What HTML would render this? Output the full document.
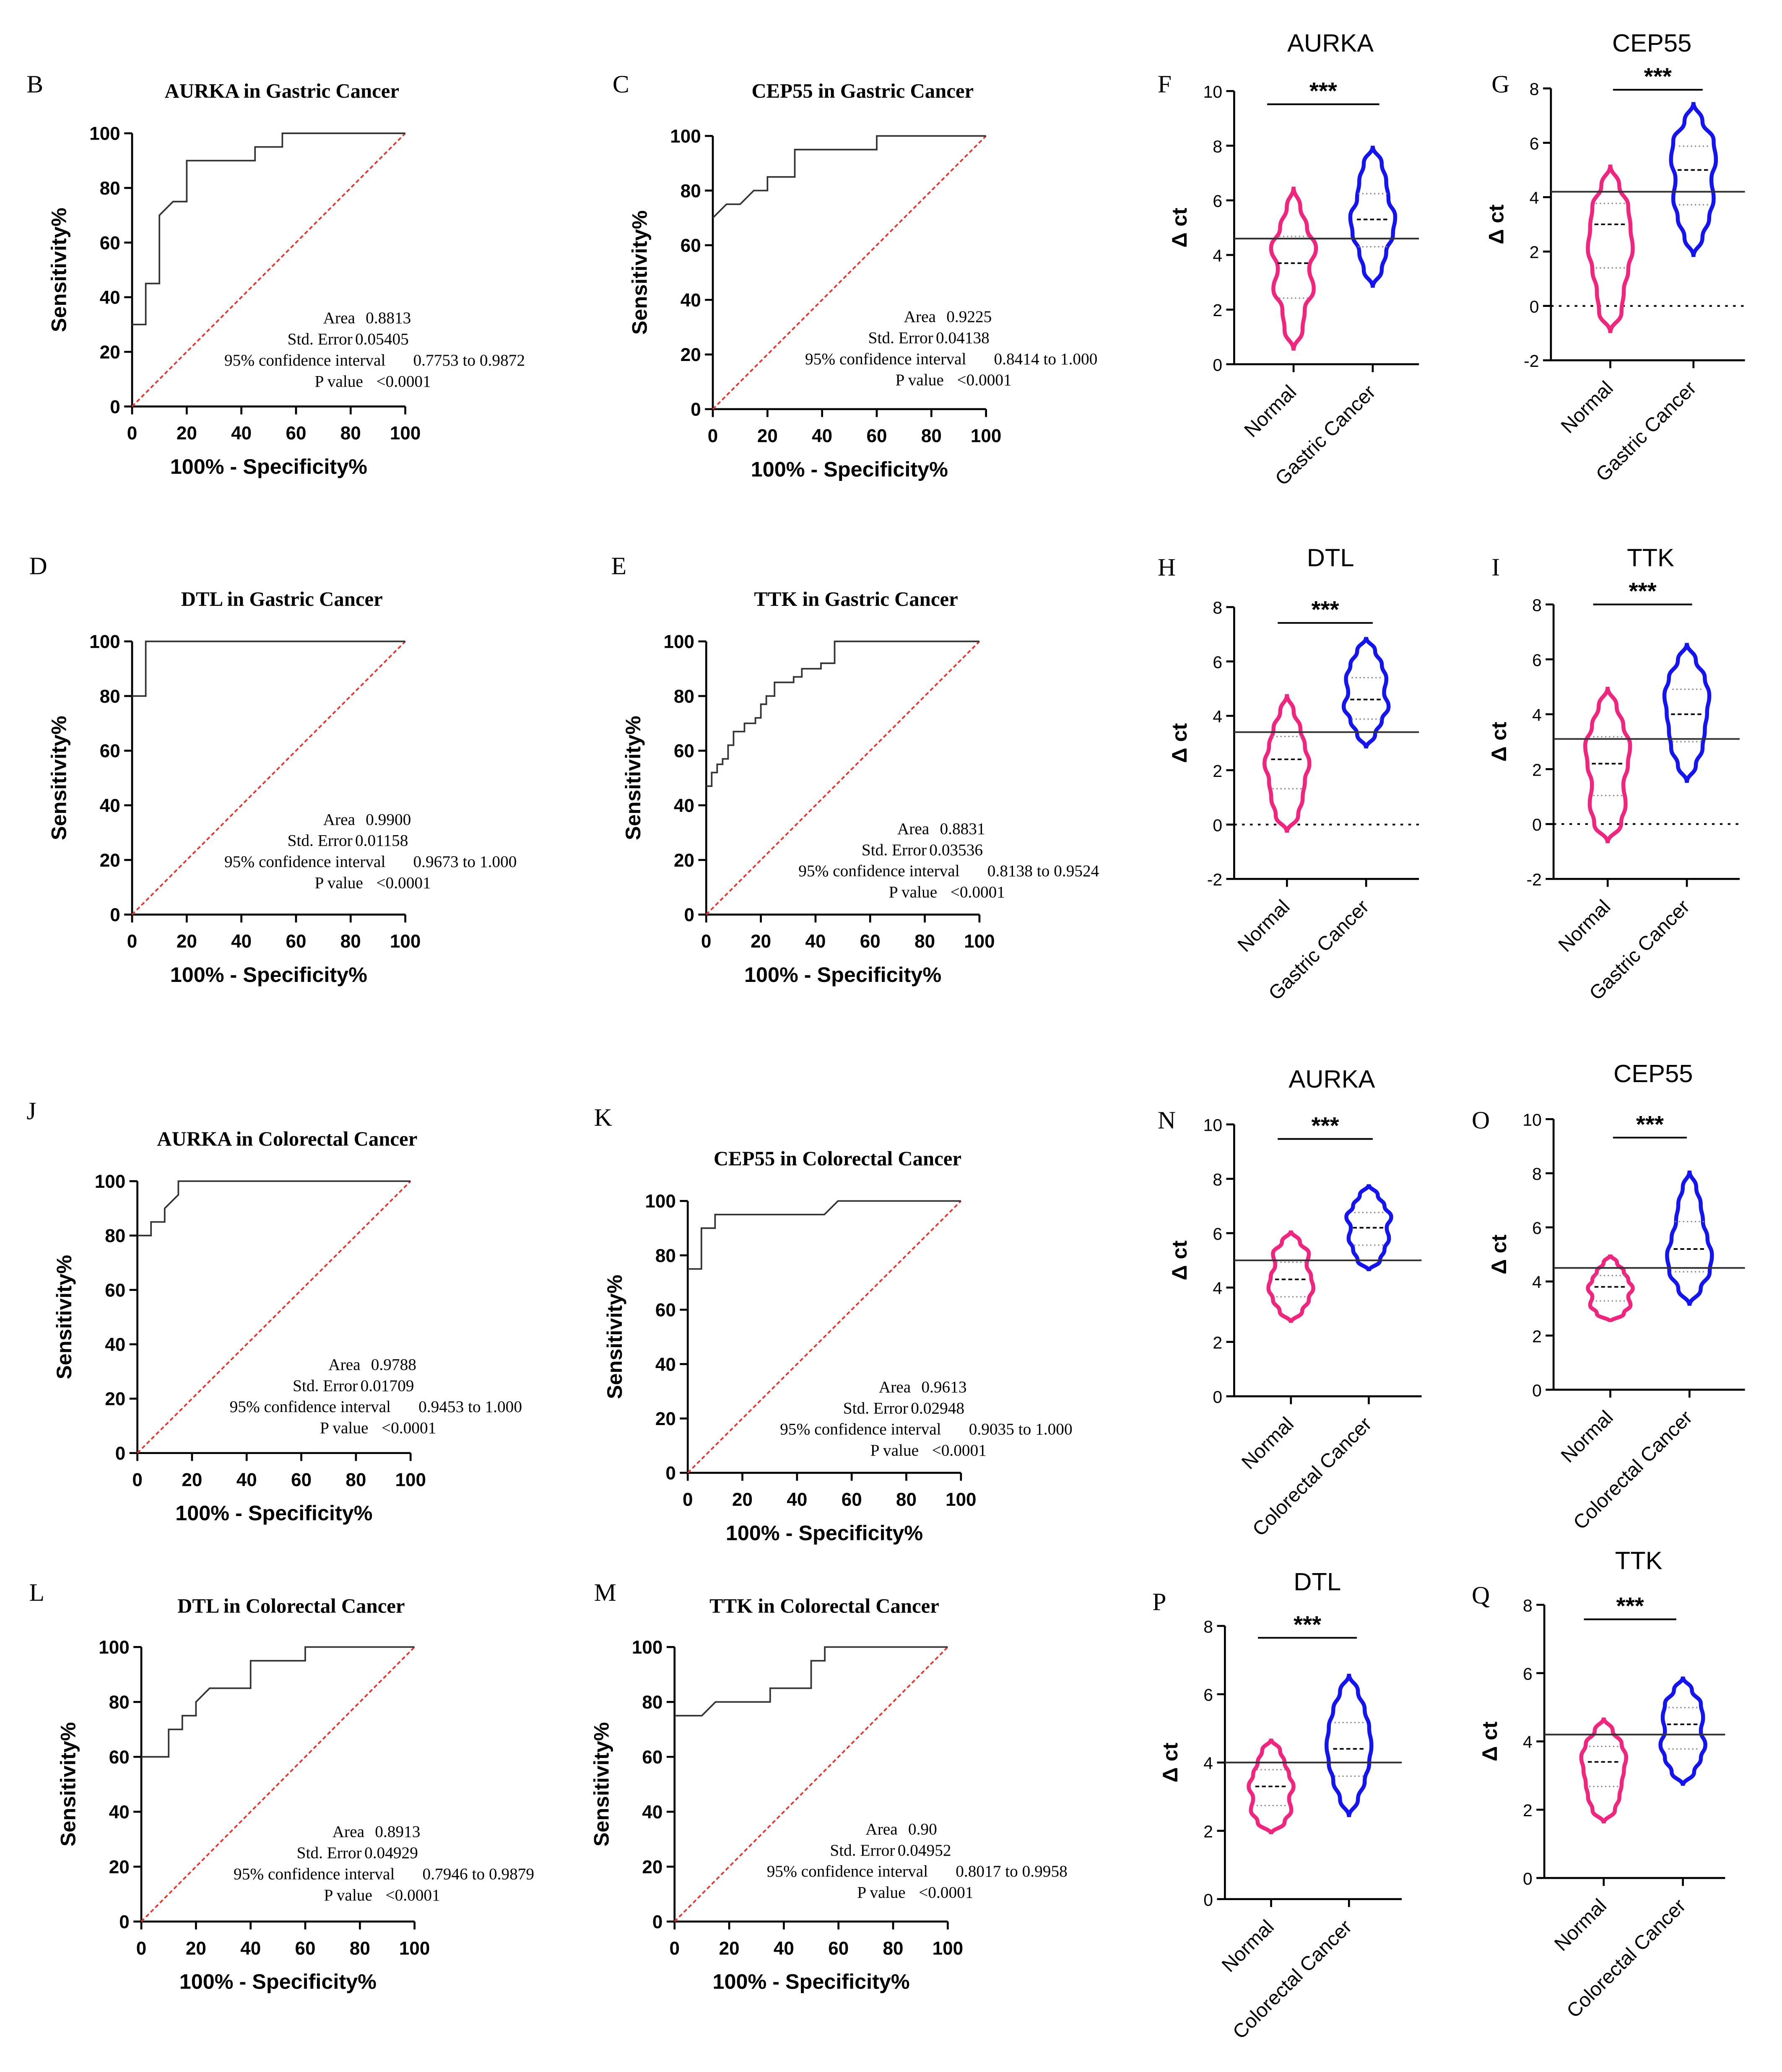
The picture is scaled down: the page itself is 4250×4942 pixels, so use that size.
<!DOCTYPE html>
<html><head><meta charset="utf-8"><style>
html,body{margin:0;padding:0;background:#fff;}
svg{display:block;}
.serif{font-family:"Liberation Serif",serif;}
.sans{font-family:"Liberation Sans",sans-serif;}
</style></head><body>
<svg id="fig" width="4250" height="4942" viewBox="0 0 1350 1570" xmlns="http://www.w3.org/2000/svg"></svg>
<script>
// ROC panel data
const rocIds = ['B','C','D','E','J','K','L','M'];
const rocTitles = ['AURKA in Gastric Cancer','CEP55 in Gastric Cancer','DTL in Gastric Cancer','TTK in Gastric Cancer','AURKA in Colorectal Cancer','CEP55 in Colorectal Cancer','DTL in Colorectal Cancer','TTK in Colorectal Cancer'];
const rocFpr = [
 [0,5,5,10,10,15,20,20,45,45,55,55,100],
 [0,5,10,15,20,20,30,30,60,60,100],
 [0,5,5,100],
 [0,2,2,4,4,6,6,8,8,10,10,14,14,18,18,20,20,22,22,25,25,32,32,35,35,42,42,47,47,100],
 [0,5,5,10,10,15,15,100],
 [0,5,5,10,10,50,55,100],
 [0,10,10,15,15,20,20,25,40,40,60,60,100],
 [0,10,15,35,35,50,50,55,55,100]];
const rocTpr = [
 [30,30,45,45,70,75,75,90,90,95,95,100,100],
 [70,75,75,80,80,85,85,95,95,100,100],
 [80,80,100,100],
 [47,47,52,52,55,55,57,57,62,62,67,67,70,70,72,72,77,77,80,80,85,85,87,87,90,90,92,92,100,100],
 [80,80,85,85,90,95,100,100],
 [75,75,90,90,95,95,100,100],
 [60,60,70,70,75,75,80,85,85,95,95,100,100],
 [75,75,80,80,85,85,95,95,100,100]];
const rocArea = ['0.8813','0.9225','0.9900','0.8831','0.9788','0.9613','0.8913','0.90'];
const rocSE = ['0.05405','0.04138','0.01158','0.03536','0.01709','0.02948','0.04929','0.04952'];
const rocCI = ['0.7753 to 0.9872','0.8414 to 1.000','0.9673 to 1.000','0.8138 to 0.9524','0.9453 to 1.000','0.9035 to 1.000','0.7946 to 0.9879','0.8017 to 0.9958'];
const rocTicks = [0,20,40,60,80,100];
// layout (not data)
const rocBox = [[100,308,101],[540,310,103],[100,693,486],[535,693,486],[104,1101,895],[521,1116,910],[107,1456,1248],[511,1456,1248]];
const rocLetterPos = [[20,70],[464,70],[22,435],[463,435],[20,848],[450,853],[22,1213],[450,1213]];
const rocTitleY = [74,74,459,459,868,883,1222,1222];
const rocTextY = [245,244,625,632,1038,1055,1392,1390];

// Violin data
const vioIds = ['F','G','H','I','N','O','P','Q'];
const vioTitles = ['AURKA','CEP55','DTL','TTK','AURKA','CEP55','DTL','TTK'];
const vioGroups = ['Normal','Gastric Cancer','Normal','Gastric Cancer','Normal','Gastric Cancer','Normal','Gastric Cancer','Normal','Colorectal Cancer','Normal','Colorectal Cancer','Normal','Colorectal Cancer','Normal','Colorectal Cancer'];
const vioNormMin = [0.5,-1,-0.3,-0.7,2.7,2.5,1.9,1.6];
const vioNormMax = [6.5,5.2,4.8,5,6.1,5,4.7,4.7];
const vioNormMed = [3.7,3,2.4,2.2,4.3,3.8,3.3,3.4];
const vioCanMin = [2.8,1.8,2.8,1.5,4.6,3.1,2.4,2.7];
const vioCanMax = [8,7.5,6.9,6.6,7.8,8.1,6.6,5.9];
const vioCanMed = [5.3,5,4.6,4,6.2,5.2,4.4,4.5];
const vioRef = [4.6,4.2,3.4,3.1,5.0,4.5,4.0,4.2];
const vioYMin = [0,-2,-2,-2,0,0,0,0];
const vioYMax = [10,8,8,8,10,10,8,8];
const vioYStep = [2,2,2,2,2,2,2,2];
// relative half-width profiles bottom->top
const normProfile = [[0,.4,.5,.9,.7,1,.6,.3,0],[0,.5,.6,.8,1,.9,.8,.4,0],[0,.5,.7,.8,1,.8,.6,.3,0],[0,.6,.8,.7,.9,1,.7,.4,0],[0,.5,.8,1,.9,.7,.8,.4,0],[0,.6,.9,.8,1,.8,.6,.3,0],[0,.6,.9,.8,1,.8,.6,.4,0],[0,.5,.7,.8,.9,1,.8,.4,0]];
const canProfile = [[0,.4,.6,.9,1,.7,.6,.4,0],[0,.4,.7,.9,.8,1,.9,.4,0],[0,.4,.7,1,.8,.9,.7,.4,0],[0,.4,.7,.8,.9,1,.8,.4,0],[0,.5,.7,.9,.8,1,.7,.4,0],[0,.5,.9,1,.8,.6,.5,.3,0],[0,.4,.7,.9,1,.9,.7,.4,0],[0,.5,.8,1,.8,.9,.8,.4,0]];
// layout
const vioBox = [[935,276,69,1075,980,1040,79,960,1045,32],[1175,273,67,1322,1220,1283,68,1222,1290,32],[935,666,460,1075,975,1035,472,968,1040,422],[1177,666,458,1318,1218,1278,458,1207,1282,422],[935,1058,852,1077,978,1037,863,968,1040,817],[1177,1053,848,1322,1220,1280,862,1222,1278,813],[928,1439,1232,1062,963,1022,1241,953,1028,1198],[1170,1423,1216,1307,1215,1275,1227,1200,1270,1182]];
const vioLetterPos = [[877,70],[1130,70],[877,436],[1130,436],[877,855],[1115,855],[873,1220],[1115,1215]];

const NS='http://www.w3.org/2000/svg';
const svg=document.getElementById('fig');
function mk(tag,attrs,parent,text){const e=document.createElementNS(NS,tag);for(const k in attrs)e.setAttribute(k,attrs[k]);if(text!==undefined)e.textContent=text;(parent||svg).appendChild(e);return e;}

rocIds.forEach((id,i)=>{
  const [x0,y0,y1]=rocBox[i]; const x1=x0+207;
  const g=mk('g',{});
  
  
  const sx=v=>x0+(x1-x0)*v/100, sy=v=>y0+(y1-y0)*v/100;
  const lt=mk('text',{x:rocLetterPos[i][0],y:rocLetterPos[i][1],class:'serif','font-size':19},g,id);
  
  
  const tt=mk('text',{x:(x0+x1)/2+10,y:rocTitleY[i],class:'serif','font-size':15.5,'font-weight':'bold','text-anchor':'middle'},g,rocTitles[i]);
  
  
  mk('line',{x1:x0,y1:y0,x2:x0,y2:y1,stroke:'#000','stroke-width':1.5},g);
  mk('line',{x1:x0,y1:y0,x2:x1,y2:y0,stroke:'#000','stroke-width':1.5},g);
  rocTicks.forEach(t=>{
    mk('line',{x1:x0-6,y1:sy(t),x2:x0,y2:sy(t),stroke:'#000','stroke-width':1.5},g);
    mk('text',{x:x0-9,y:sy(t)+5,class:'sans','font-size':14,'font-weight':'bold','text-anchor':'end'},g,t);
    mk('line',{x1:sx(t),y1:y0,x2:sx(t),y2:y0+6,stroke:'#000','stroke-width':1.5},g);
    mk('text',{x:sx(t),y:y0+25,class:'sans','font-size':14,'font-weight':'bold','text-anchor':'middle'},g,t);
  });
  const xl=mk('text',{x:(x0+x1)/2,y:y0+51,class:'sans','font-size':16,'font-weight':'bold','text-anchor':'middle'},g,'100% - Specificity%');
  
  
  const yl=mk('text',{x:0,y:0,class:'sans','font-size':16,'font-weight':'bold','text-anchor':'middle',transform:`translate(${x0-50},${(y0+y1)/2}) rotate(-90)`},g,'Sensitivity%');
  
  
  const diag=mk('line',{x1:sx(0),y1:sy(0),x2:sx(100),y2:sy(100),stroke:'#e8322a','stroke-width':1.2,'stroke-dasharray':'3,2'},g);
  
  
  let d='';
  rocFpr[i].forEach((f,k)=>{d+=(k?'L':'M')+sx(f)+','+sy(rocTpr[i][k]);});
  const p=mk('path',{d:d,fill:'none',stroke:'#333','stroke-width':1.2},g);
  
  
  const ty=rocTextY[i], cx=x0+155;
  const st=mk('g',{class:'serif','font-size':12.5},g);
  
  
  mk('text',{x:cx+14,y:ty,'text-anchor':'end'},st,'Area');
  mk('text',{x:cx+22,y:ty},st,rocArea[i]);
  mk('text',{x:cx+12,y:ty+16,'text-anchor':'end'},st,'Std. Error');
  mk('text',{x:cx+14,y:ty+16},st,rocSE[i]);
  mk('text',{x:cx+37,y:ty+32,'text-anchor':'end'},st,'95% confidence interval');
  mk('text',{x:cx+58,y:ty+32},st,rocCI[i]);
  mk('text',{x:cx+20,y:ty+48,'text-anchor':'end'},st,'P value');
  mk('text',{x:cx+30,y:ty+48},st,'<0.0001');
});

vioIds.forEach((id,i)=>{
  const [ax,yb,yt,xr,cn,cc,sigY,s1,s2,titY]=vioBox[i];
  const g=mk('g',{});
  
  
  const lo=vioYMin[i],hi=vioYMax[i];
  const sy=v=>yb+(yt-yb)*(v-lo)/(hi-lo);
  const lt=mk('text',{x:vioLetterPos[i][0],y:vioLetterPos[i][1],class:'serif','font-size':19},g,id);
  
  
  const tt=mk('text',{x:(ax+xr)/2+3,y:titY+7,class:'sans','font-size':19,'text-anchor':'middle'},g,vioTitles[i]);
  
  
  mk('line',{x1:ax,y1:yb,x2:ax,y2:yt,stroke:'#000','stroke-width':1.5},g);
  mk('line',{x1:ax,y1:yb,x2:xr,y2:yb,stroke:'#000','stroke-width':1.5},g);
  for(let t=lo;t<=hi;t+=vioYStep[i]){
    mk('line',{x1:ax-6,y1:sy(t),x2:ax,y2:sy(t),stroke:'#000','stroke-width':1.5},g);
    mk('text',{x:ax-9,y:sy(t)+5,class:'sans','font-size':13,'text-anchor':'end'},g,t);
  }
  if(lo<0){const z=mk('line',{x1:ax,y1:sy(0),x2:xr,y2:sy(0),stroke:'#000','stroke-width':1.3,'stroke-dasharray':'2,4'},g);
    }
  const yl=mk('text',{x:0,y:0,class:'sans','font-size':16,'font-weight':'bold','text-anchor':'middle',transform:`translate(${ax-36},${(yb+yt)/2}) rotate(-90)`},g,'Δ ct');
  
  
  [[cn,vioGroups[2*i]],[cc,vioGroups[2*i+1]]].forEach(([x,lab])=>{
    mk('line',{x1:x,y1:yb,x2:x,y2:yb+6,stroke:'#000','stroke-width':1.5},g);
    const tl=mk('text',{x:0,y:0,class:'sans','font-size':15,'text-anchor':'end',transform:`translate(${x+3},${yb+22}) rotate(-45)`},g,lab);
    
    
  });
  const drawV=(cx,mn,mx,md,prof,col,name)=>{
    const n=prof.length, W=17;
    let L=[],R=[];
    prof.forEach((w,k)=>{const v=mn+(mx-mn)*k/(n-1);R.push([cx+w*W,sy(v)]);L.push([cx-w*W,sy(v)]);});
    let d='M'+R[0][0]+','+R[0][1];
    for(let k=1;k<n;k++){const a=R[k-1],b=R[k];const my=(a[1]+b[1])/2;d+=` C${a[0]},${my} ${b[0]},${my} ${b[0]},${b[1]}`;}
    L.reverse();
    for(let k=1;k<n;k++){const a=L[k-1],b=L[k];const my=(a[1]+b[1])/2;d+=` C${a[0]},${my} ${b[0]},${my} ${b[0]},${b[1]}`;}
    const p=mk('path',{d:d+'Z',fill:'none',stroke:col,'stroke-width':3},g);
    
    
    const q1=md-(md-mn)*0.4,q3=md+(mx-md)*0.35;
    mk('line',{x1:cx-12,y1:sy(md),x2:cx+12,y2:sy(md),stroke:'#000','stroke-width':1.2,'stroke-dasharray':'3,2'},g);
    [q1,q3].forEach(q=>mk('line',{x1:cx-11,y1:sy(q),x2:cx+11,y2:sy(q),stroke:'#888','stroke-width':1,'stroke-dasharray':'1,2'},g));
  };
  drawV(cn,vioNormMin[i],vioNormMax[i],vioNormMed[i],normProfile[i],'#f0267e','violin-normal');
  drawV(cc,vioCanMin[i],vioCanMax[i],vioCanMed[i],canProfile[i],'#1414f0','violin-cancer');
  const rl=mk('line',{x1:ax,y1:sy(vioRef[i]),x2:xr,y2:sy(vioRef[i]),stroke:'#333','stroke-width':1.3},g);
  
  
  mk('line',{x1:s1,y1:sigY,x2:s2,y2:sigY,stroke:'#000','stroke-width':1.3},g);
  const sg=mk('text',{x:(s1+s2)/2,y:sigY-4,class:'sans','font-size':18,'font-weight':'bold','text-anchor':'middle'},g,'***');
  
  
});
</script>
</body></html>
